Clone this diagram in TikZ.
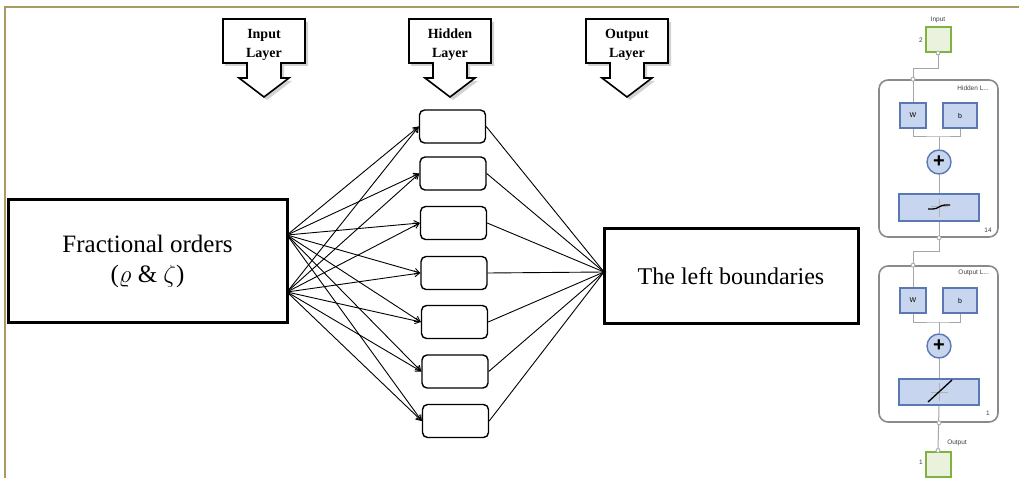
\documentclass[tikz,border=0pt]{standalone}
\usepackage{fontspec}
\setmainfont{Liberation Serif}
\newfontfamily\sansf{Liberation Sans}
\usetikzlibrary{arrows.meta,calc}
\definecolor{framec}{HTML}{A89A62}
\definecolor{gfill}{HTML}{EAF1DC}
\definecolor{gline}{HTML}{7FB23F}
\definecolor{bfill}{HTML}{C8D5EE}
\definecolor{bline}{HTML}{5A78B4}
\definecolor{wirec}{HTML}{A6A6A6}
\definecolor{lyrc}{HTML}{8A8A8A}
\begin{document}
\begin{tikzpicture}[x=1pt,y=-1pt,
  bigbox/.style={draw=black,line width=3pt,fill=white,align=center,inner sep=0pt},
  hid/.style={draw=black,line width=1.4pt,rounded corners=5pt,minimum width=66pt,minimum height=33pt,inner sep=0pt},
  conn/.style={line width=0.9pt,-{Straight Barb[length=5pt,width=6pt]}},
  outl/.style={line width=0.9pt},
  callout/.style={draw=black,line width=1.6pt,fill=white,line join=miter},
  calltext/.style={font=\fontsize{14}{19}\selectfont\bfseries,align=center,inner sep=0pt},
  shad/.style={fill=black!35,opacity=0.5},
  wire/.style={draw=wirec,line width=1pt},
  lyr/.style={draw=lyrc,line width=1.6pt,rounded corners=9pt,minimum width=119pt,inner sep=0pt},
  blu/.style={draw=bline,fill=bfill,line width=1.4pt,inner sep=0pt,minimum height=25pt,font=\sansf\fontsize{7}{8}\selectfont},
  grn/.style={draw=gline,fill=gfill,line width=2pt,minimum size=25pt,inner sep=0pt},
  small/.style={font=\sansf\fontsize{6.5}{7}\selectfont,text=black!75,inner sep=0pt},
  dot/.style={circle,draw=wirec,fill=white,line width=0.8pt,minimum size=4pt,inner sep=0pt},
  plusc/.style={circle,draw=bline,fill=bfill,line width=1.4pt,minimum size=24pt,inner sep=0pt,font=\sansf\bfseries\fontsize{20}{20}\selectfont},
  cross/.style={draw=black!30,line width=1pt}
]
\useasboundingbox (0,0) rectangle (1019,478);
\fill[white] (0,0) rectangle (1019,478);
% frame
\draw[framec,line width=2pt] (5,478) -- (5,7) -- (1019,7);

% input and output boxes
\node[bigbox,minimum width=279pt,minimum height=122pt,font=\fontsize{25}{32}\selectfont] (inp) at (147.5,261) {\raisebox{-2pt}{Fractional orders}\\($\varrho$ \& $\zeta$)};
\node[bigbox,minimum width=254pt,minimum height=94pt,font=\fontsize{24}{28}\selectfont] (outp) at (731,276) {The left boundaries};

\coordinate (s1) at (287,235);
\coordinate (s2) at (287,292);
\coordinate (q) at (604,272);

% hidden nodes
\foreach \i/\y in {1/126.5,2/173.5,3/223,4/273,5/322,6/371.5,7/421} {
  \node[hid] (h\i) at (452+\i*0.5,\y) {};
  \draw[conn] (s1) -- (h\i.west);
  \draw[conn] (s2) -- (h\i.west);
  \draw[outl] (h\i.east) -- (q);
}
\fill (q) circle (2.2pt);

% callouts
\foreach \cx/\nm/\t in {264/ci/Input,450/ch/Hidden,627/co/Output} {
  \fill[shad] (\cx-39,22) -- (\cx+44,22) -- (\cx+44,66) -- (\cx+20,66) -- (\cx+20,81) -- (\cx+28,81) -- (\cx+3,100) -- (\cx-22,81) -- (\cx-14,81) -- (\cx-14,66) -- (\cx-39,66) -- cycle;
  \draw[callout] (\cx-41,19) -- (\cx+41,19) -- (\cx+41,63) -- (\cx+17,63) -- (\cx+17,78) -- (\cx+25,78) -- (\cx,97) -- (\cx-25,78) -- (\cx-17,78) -- (\cx-17,63) -- (\cx-41,63) -- cycle;
  \node[calltext] (\nm) at (\cx,45) {\t\\Layer};
}

% ---------- right panel ----------
\node[grn] (ib) at (938,39.5) {};
\node[small] (ibl) at (938,20) {Input};
\node[small] (ibn) at (921,40) {2};

\node[lyr,minimum height=157pt] (hl) at (938.5,158.5) {};
\node[small,anchor=east] (hll) at (989,88) {Hidden L...};
\node[blu,minimum width=26pt] (w1) at (913,115.5) {W};
\node[blu,minimum width=34pt] (b1) at (960,115.5) {b};
\coordinate (j1) at (939,137);
\node[plusc] (p1) at (939,162) {+};
\node[blu,minimum width=80pt,minimum height=27pt] (t1) at (939,207.5) {};
\node[small] (n14) at (988,230) {14};

\node[lyr,minimum height=156pt] (ol) at (938.5,344) {};
\node[small,anchor=east] (oll) at (989,273) {Output L...};
\node[blu,minimum width=26pt] (w2) at (913,300.5) {W};
\node[blu,minimum width=34pt] (b2) at (960,300.5) {b};
\coordinate (j2) at (939,322);
\node[plusc] (p2) at (939,346) {+};
\node[blu,minimum width=80pt,minimum height=26pt] (t2) at (939,392) {};
\node[small] (n1) at (988,413) {1};

\node[grn] (ob) at (938,464) {};
\node[small] (obl) at (957,443) {Output};
\node[small] (obn) at (921,462) {1};

% wires
\draw[wire] (ib.south) -- ++(0,16) -| (w1.north);
\draw[wire] (w1.south) |- (j1) -| (b1.south);
\draw[wire] (j1) -- (p1.north);
\draw[wire] (p1.south) -- (t1.north);
\draw[wire] (t1.south) -- ++(0,30) -| (w2.north);
\draw[wire] (w2.south) |- (j2) -| (b2.south);
\draw[wire] (j2) -- (p2.north);
\draw[wire] (p2.south) -- (t2.north);
\draw[wire] (t2.south) -- (ob.north);

% icons
\draw[cross] (931,207) -- (948,207) (939,199) -- (939,217);
\draw[black,line width=1.3pt] (928,209) -- (933,209) .. controls (938,209) and (940,205) .. (945,205) -- (950,205);
\draw[cross] (931,392) -- (948,392) (939,383) -- (939,401);
\draw[black,line width=1.3pt] (928,402) -- (952,380);

% junction dots
\node[dot] (d0) at (ib.south) {};
\node[dot] (d1) at (hl.north -| w1) {};
\node[dot] (d2) at (hl.south -| t1) {};
\node[dot] (d3) at (ol.north -| w2) {};
\node[dot] (d4) at (ol.south -| t2) {};
\node[dot] (d5) at (ob.north) {};
\end{tikzpicture}
\end{document}
